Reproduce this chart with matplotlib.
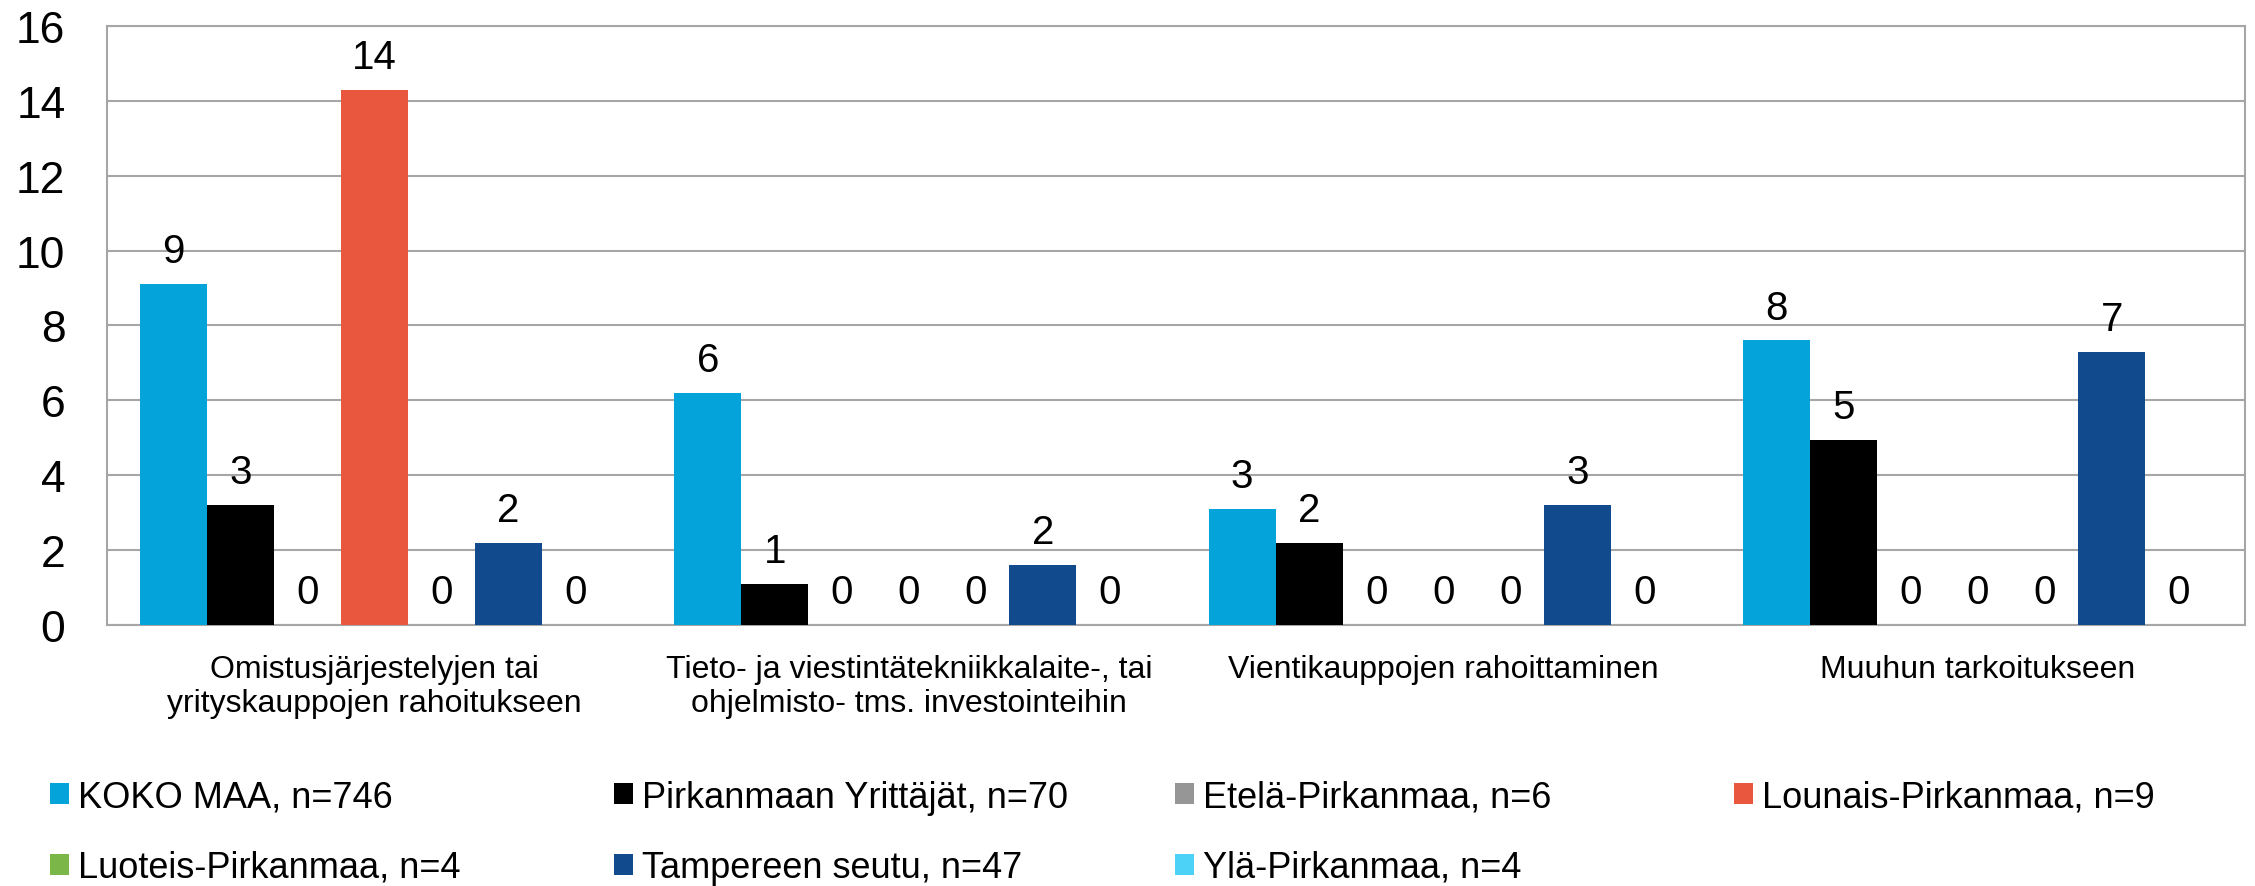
import matplotlib.pyplot as plt
import numpy as np

plt.rcParams['font.family'] = ['Liberation Sans', 'DejaVu Sans']

# data
categories = ['Omistusjärjestelyjen tai\nyrityskauppojen rahoitukseen',
              'Tieto- ja viestintätekniikkalaite-, tai\nohjelmisto- tms. investointeihin',
              'Vientikauppojen rahoittaminen',
              'Muuhun tarkoitukseen']
series_names = ['KOKO MAA, n=746', 'Pirkanmaan Yrittäjät, n=70', 'Etelä-Pirkanmaa, n=6',
                'Lounais-Pirkanmaa, n=9', 'Luoteis-Pirkanmaa, n=4', 'Tampereen seutu, n=47',
                'Ylä-Pirkanmaa, n=4']
koko_maa = [9.1, 6.2, 3.1, 7.6]
pirkanmaan_yrittajat = [3.2, 1.1, 2.2, 4.95]
etela = [0, 0, 0, 0]
lounais = [14.3, 0, 0, 0]
luoteis = [0, 0, 0, 0]
tampereen_seutu = [2.2, 1.6, 3.2, 7.3]
yla = [0, 0, 0, 0]
values = [koko_maa, pirkanmaan_yrittajat, etela, lounais, luoteis, tampereen_seutu, yla]
colors = ['#04A4DA', '#000000', '#969696', '#E8573E', '#7AB648', '#124A8E', '#4DD2F7']

fig = plt.figure(figsize=(22.55, 8.87), dpi=100)
ax = fig.add_axes([0.0475, 0.2943, 0.948, 0.6753])

x = np.arange(len(categories))
w = 0.1254
handles = []
for i, (name, vals, c) in enumerate(zip(series_names, values, colors)):
    b = ax.bar(x + (i - 3) * w, vals, w, color=c, label=name, zorder=3)
    ax.bar_label(b, fmt='%.0f', padding=10, fontsize=29)
    handles.append(b)

ax.set_ylim(0, 16)
ax.set_yticks(range(0, 17, 2))
ax.set_xlim(-0.5, 3.5)
ax.set_xticks(x)
ax.set_xticklabels(categories, fontsize=23, linespacing=1.18)
ax.tick_params(axis='y', labelsize=32, length=0, pad=30)
ax.tick_params(axis='x', length=0, pad=21)
ax.grid(axis='y', color='#A6A6A6', linewidth=1.5, zorder=0)
for s in ax.spines.values():
    s.set_color('#A6A6A6')
    s.set_linewidth(1.5)

# legend, one per column so the columns line up like the original
col_x = [0.0222, 0.2723, 0.521, 0.769]
for c in range(4):
    hs = [handles[c]] + ([handles[c + 4]] if c + 4 < len(handles) else [])
    fig.legend(handles=hs, loc='upper left', bbox_to_anchor=(col_x[c], 0.12),
               frameon=False, fontsize=26, handlelength=0.53, handleheight=0.53,
               handletextpad=0.25, labelspacing=0.98, borderpad=0, borderaxespad=0)

fig.savefig('out.png', dpi=100)
